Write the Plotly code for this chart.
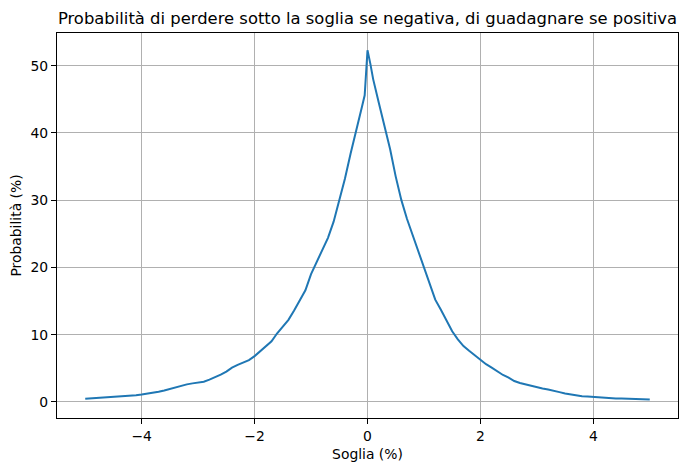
"""Probabilita' di perdere / guadagnare oltre una soglia."""

import plotly.graph_objects as go

# soglie (%) e probabilita' (%)
soglia = [
    -5.0, -4.9, -4.8, -4.7, -4.6, -4.5, -4.4, -4.3, -4.2, -4.1,
    -4.0, -3.9, -3.8, -3.7, -3.6, -3.5, -3.4, -3.3, -3.2, -3.1,
    -3.0, -2.9, -2.8, -2.7, -2.6, -2.5, -2.4, -2.3, -2.2, -2.1,
    -2.0, -1.9, -1.8, -1.7, -1.6, -1.5, -1.4, -1.3, -1.2, -1.1,
    -1.0, -0.9, -0.8, -0.7, -0.6, -0.5, -0.4, -0.3, -0.2, -0.1,
    -0.05, 0.0, 0.05,
    0.1, 0.2, 0.3, 0.4, 0.5, 0.6, 0.7, 0.8, 0.9, 1.0,
    1.1, 1.2, 1.3, 1.4, 1.5, 1.6, 1.7, 1.8, 1.9, 2.0,
    2.1, 2.2, 2.3, 2.4, 2.5, 2.6, 2.7, 2.8, 2.9, 3.0,
    3.1, 3.2, 3.3, 3.4, 3.5, 3.6, 3.7, 3.8, 3.9, 4.0,
    4.1, 4.2, 4.3, 4.4, 4.5, 4.6, 4.7, 4.8, 4.9, 5.0,
]
probabilita = [
    0.45, 0.5, 0.57, 0.63, 0.7, 0.76, 0.82, 0.88, 0.94, 1.0,
    1.1, 1.2, 1.35, 1.5, 1.7, 1.95, 2.15, 2.4, 2.6, 2.75,
    2.85, 3.0, 3.3, 3.65, 4.05, 4.5, 5.1, 5.5, 5.8, 6.2,
    6.8, 7.5, 8.3, 9.0, 10.2, 11.2, 12.2, 13.6, 15.2, 16.6,
    19.0, 20.8, 22.5, 24.4, 26.8, 30.0, 33.2, 36.9, 40.6, 43.8,
    45.6, 52.3, 50.3,
    48.0, 44.5, 41.0, 37.6, 33.5, 30.0, 27.2, 24.8, 22.5, 19.8,
    17.7, 15.2, 13.7, 12.1, 10.5, 9.3, 8.3, 7.6, 6.9, 6.3,
    5.6, 5.1, 4.5, 4.0, 3.6, 3.1, 2.8, 2.6, 2.3, 2.1,
    2.0, 1.85, 1.7, 1.45, 1.25, 1.1, 0.95, 0.85, 0.8, 0.74,
    0.62, 0.55, 0.52, 0.5, 0.5, 0.48, 0.45, 0.4, 0.37, 0.34,
]

FONT = "DejaVu Sans"
# la pagina ha 8px di margine del body: la figura parte da (8, 8)
W, H = 682, 463

fig = go.Figure(
    go.Scatter(
        x=soglia,
        y=probabilita,
        mode="lines",
        line=dict(color="#1f77b4", width=2),
        showlegend=False,
    )
)

axis_style = dict(
    showline=True,
    linecolor="black",
    linewidth=1.1,
    mirror=True,
    showgrid=True,
    gridcolor="#b0b0b0",
    gridwidth=1.1,
    zeroline=False,
    ticks="outside",
    ticklen=5,
    tickwidth=1.1,
    tickcolor="black",
    tickfont=dict(family=FONT, size=13.9, color="black"),
)

fig.update_xaxes(
    **axis_style,
    range=[-5.5, 5.5],
    tickvals=[-4, -2, 0, 2, 4],
    title=dict(text="Soglia (%)", font=dict(family=FONT, size=13.9, color="black"),
               standoff=6),
)
fig.update_yaxes(
    **axis_style,
    range=[-2.4, 54.86],
    tickvals=[0, 10, 20, 30, 40, 50],
    title=dict(text="Probabilità (%)", font=dict(family=FONT, size=13.9, color="black"),
               standoff=8),
)

fig.update_layout(
    width=W,
    height=H,
    margin=dict(l=49, r=12, t=25, b=53, autoexpand=False),
    paper_bgcolor="white",
    plot_bgcolor="white",
    title=dict(
        text="Probabilità di perdere sotto la soglia se negativa, di guadagnare se positiva",
        font=dict(family=FONT, size=16.4, color="black"),
        x=0.5,
        xanchor="center",
        xref="paper",
        y=1 - 10 / H,
        yanchor="middle",
        yref="container",
    ),
)

fig.write_html("out.html")
